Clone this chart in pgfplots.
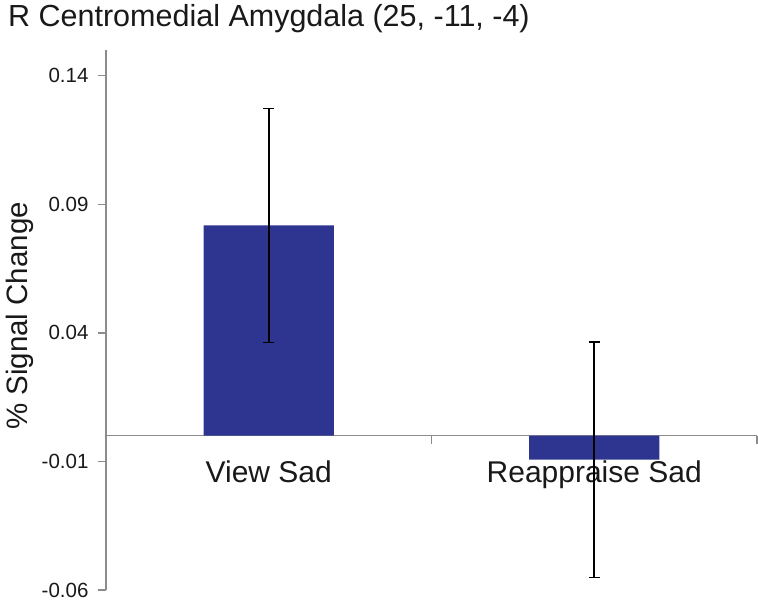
\documentclass[border=0pt]{standalone}
\usepackage{pgfplots}
\pgfplotsset{compat=1.18}
\usepackage{fontspec}
\setmainfont{Liberation Sans}
\definecolor{barblue}{RGB}{46,53,145}
\definecolor{axgray}{RGB}{140,140,140}
\begin{document}
\begin{tikzpicture}
\useasboundingbox (0pt,0pt) rectangle (758pt,605pt);
\begin{axis}[
  at={(106pt,15pt)}, anchor=south west,
  scale only axis, width=651pt, height=540pt,
  xmin=-0.5, xmax=1.5, ymin=-0.06, ymax=0.15,
  axis y line=left, axis x line=middle,
  axis line style={draw=axgray, line width=1.5pt, -},
  tick align=outside,
  ytick={-0.06,-0.01,0.04,0.09,0.14},
  yticklabels={-0.06,-0.01,0.04,0.09,0.14},
  y tick style={draw=axgray, line width=1.5pt},
  x tick style={draw=axgray, line width=1.5pt},
  major tick length=8pt,
  yticklabel style={font=\fontsize{20.5}{24}\selectfont, text=black!90, xshift=-6pt},
  xtick={-0.5,0.5,1.5},
  xticklabels={},
  extra x ticks={0,1},
  extra x tick labels={View Sad, Reappraise Sad},
  extra x tick style={major tick length=0pt, x tick style={draw=none},
    xticklabel style={font=\fontsize{30}{36}\selectfont, text=black!90, anchor=base, yshift=-47pt}},
  clip=false,
]
\addplot[ybar, bar width=0.4, fill=barblue, draw=none,
  error bars/.cd, y dir=both, y explicit,
  error bar style={black, line width=1.6pt},
  error mark options={black, line width=1.6pt, rotate=90, mark size=5.5pt}]
  coordinates {(0,0.0818) +- (0,0.0455) (1,-0.0093) +- (0,0.0458)};
\end{axis}
\node[anchor=base west, font=\fontsize{30.5}{36}\selectfont, text=black!90, inner sep=0pt] at (8pt,578pt) {R Centromedial Amygdala (25, -11, -4)};
\node[rotate=90, anchor=base, font=\fontsize{29.5}{35}\selectfont, text=black!90, inner sep=0pt] at (27pt,289pt) {\% Signal Change};
\end{tikzpicture}
\end{document}
